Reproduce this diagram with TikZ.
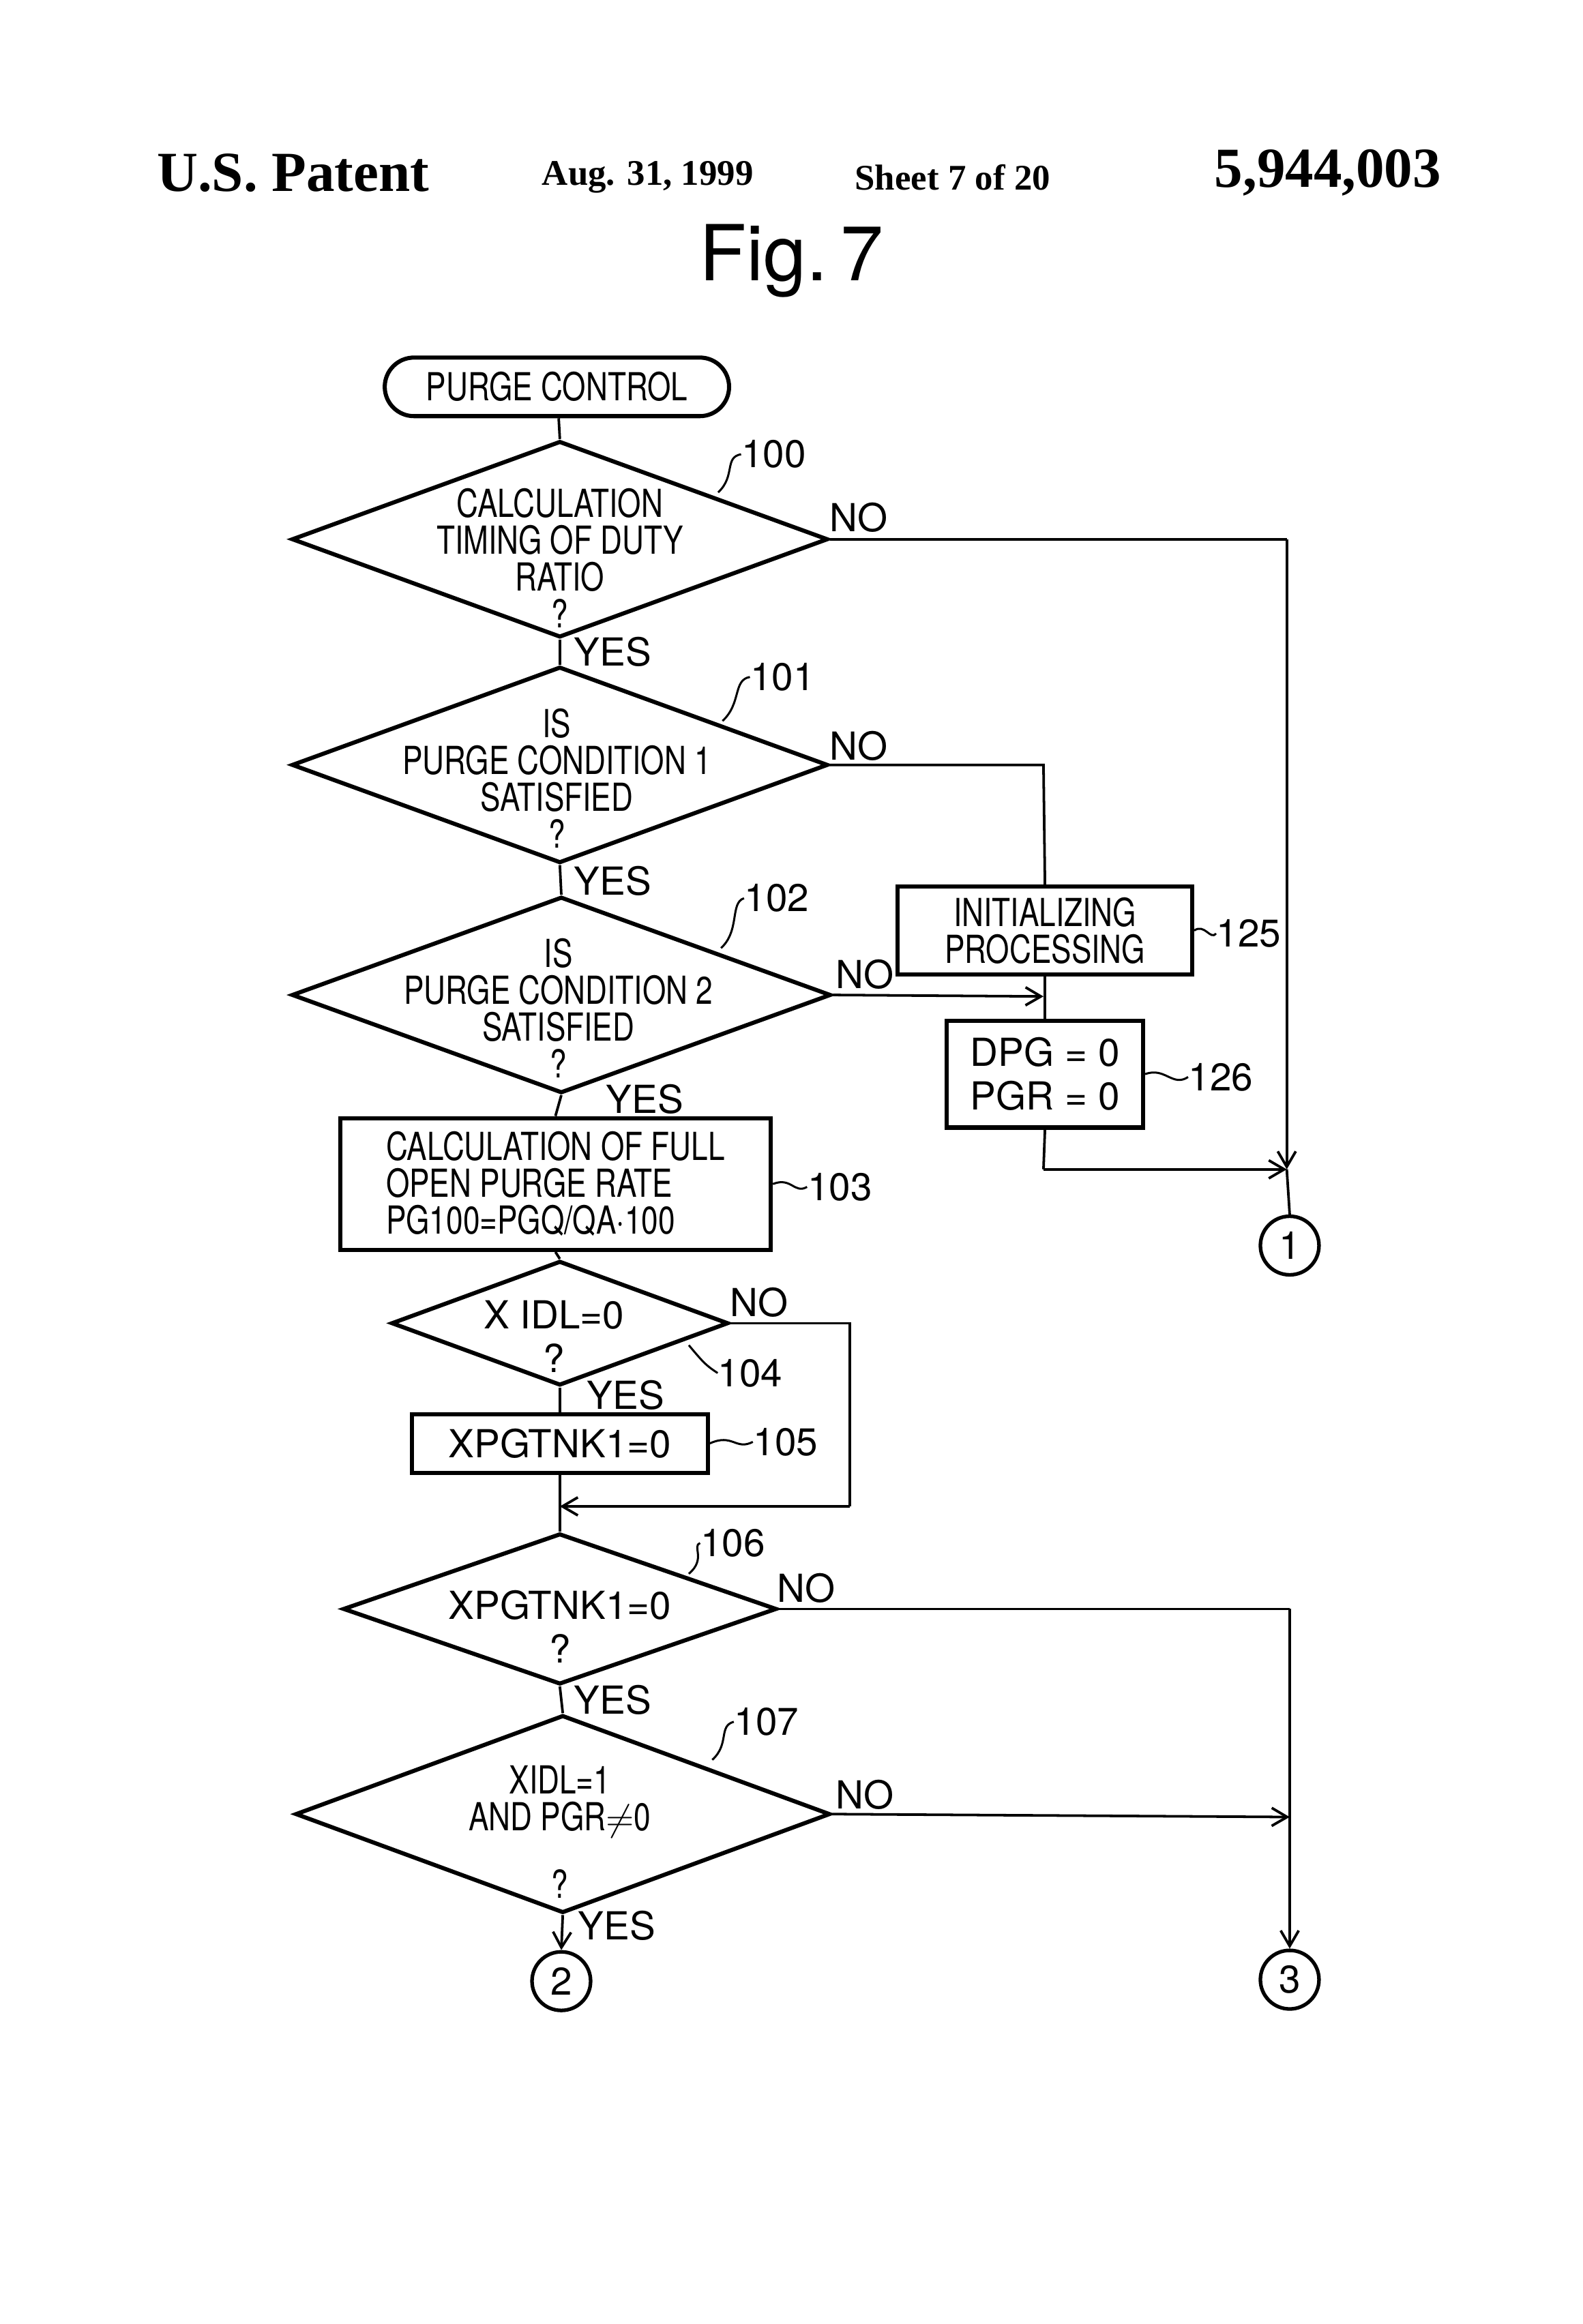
\documentclass[tikz,border=0pt]{standalone}
\usepackage{fontspec}
\setmainfont{Liberation Serif}
\newfontfamily\nar{TeX Gyre Heros}[FakeStretch=0.78]
\newfontfamily\sans{TeX Gyre Heros}
\usetikzlibrary{shapes.geometric,arrows.meta}
\begin{document}
\begin{tikzpicture}[x=0.02cm,y=-0.02cm,
  dia/.style={diamond,draw,line width=1.6pt,inner sep=0,minimum width=#1},
  box/.style={draw,line width=1.6pt,inner sep=0,align=center},
  txt/.style={font=\nar\fontsize{15}{14.3}\selectfont,align=center,inner sep=0},
  lab/.style={font=\sans\fontsize{15}{16}\selectfont,inner sep=0},
  con/.style={line width=1pt},
  arr/.style={line width=1pt,-{Straight Barb[length=6pt,width=7pt]}},
  circ/.style={circle,draw,line width=1.4pt,minimum size=0.8cm,inner sep=0,font=\sans\fontsize{15}{16}\selectfont},
  lead/.style={line width=0.8pt}]
\useasboundingbox (0,0) rectangle (1080,1586);
% header
\node[font=\bfseries\fontsize{22}{24}\selectfont] (h1) at (200,118) {U.S. Patent};
\node[font=\bfseries\fontsize{14}{16}\selectfont] (h2) at (442,121) {Aug. 31, 1999};
\node[font=\bfseries\fontsize{14}{16}\selectfont] (h3) at (650,121) {Sheet 7 of 20};
\node[font=\bfseries\fontsize{22}{24}\selectfont] (h4) at (906,118) {5,944,003};
\node[font=\sans\fontsize{30}{32}\selectfont] (fig) at (540,178) {Fig.\,7};
% start
\node[draw,line width=1.6pt,minimum width=4.7cm,minimum height=0.8cm,rounded corners=0.4cm,txt] (start) at (380,264) {PURGE CONTROL};
% 100
\node[dia,minimum width=7.32cm,minimum height=2.68cm] (d100) at (382,368) {};
\node[txt] (t100) at (382,381) {CALCULATION\\TIMING OF DUTY\\RATIO\\?};
% 101
\node[dia,minimum width=7.32cm,minimum height=2.68cm] (d101) at (382,522) {};
\node[txt] (t101) at (380,531) {IS\\PURGE CONDITION 1\\SATISFIED\\?};
% 102
\node[dia,minimum width=7.36cm,minimum height=2.68cm] (d102) at (383,679) {};
\node[txt] (t102) at (381,688) {IS\\PURGE CONDITION 2\\SATISFIED\\?};
% 125, 126
\node[box,minimum width=4.02cm,minimum height=1.2cm,txt,draw,line width=1.6pt] (b125) at (713,635) {INITIALIZING\\PROCESSING};
\node[box,minimum width=2.68cm,minimum height=1.46cm,font=\sans\fontsize{15}{17}\selectfont,draw,line width=1.6pt] (b126) at (713,733) {DPG = 0\\PGR = 0};
% 103
\node[box,minimum width=5.88cm,minimum height=1.8cm,txt,draw,line width=1.6pt,align=left] (b103) at (379,808) {CALCULATION OF FULL\\ OPEN PURGE RATE\\PG100=PGQ/QA{\textperiodcentered}100};
% 104
\node[dia,minimum width=4.6cm,minimum height=1.7cm] (d104) at (382,903) {};
\node[font=\sans\fontsize{15}{17}\selectfont,align=center,inner sep=0] (t104) at (378,912) {X IDL=0\\?};
% 105
\node[box,minimum width=4.04cm,minimum height=0.8cm,font=\sans\fontsize{15}{17}\selectfont,draw,line width=1.6pt] (b105) at (382,985) {XPGTNK1=0};
% 106
\node[dia,minimum width=5.92cm,minimum height=2.06cm] (d106) at (382,1098) {};
\node[font=\sans\fontsize{15}{17}\selectfont,align=center,inner sep=0] (t106) at (382,1110) {XPGTNK1=0\\?};
% 107
\node[dia,minimum width=7.3cm,minimum height=2.7cm] (d107) at (384,1238) {};
\node[txt] (t107) at (382,1250) {XIDL=1\\AND PGR$\neq$0\\[12pt]?};
% circles
\node[circ] (c1) at (880,850) {1};
\node[circ] (c2) at (383,1352) {2};
\node[circ] (c3) at (880,1351) {3};
% coordinates
\coordinate (r1) at (878,368);
\coordinate (r2) at (712,522);
\coordinate (r3) at (712,680);
\coordinate (r4) at (712,798);
\coordinate (r5) at (878,798);
\coordinate (r6) at (580,903);
\coordinate (r7) at (580,1028);
\coordinate (r8) at (382,1028);
\coordinate (r9) at (880,1098);
\coordinate (r10) at (880,1240);
% connectors
\draw[con] (start) -- (d100.north);
\draw[con] (d100.south) -- (d101.north);
\draw[con] (d101.south) -- (d102.north);
\draw[con] (d102.south) -- (b103.north);
\draw[con] (b103.south) -- (d104.north);
\draw[con] (d104.south) -- (b105.north);
\draw[con] (b105.south) -- (d106.north);
\draw[con] (d106.south) -- (d107.north);
\draw[arr] (d107.south) -- (c2.north);
\draw[con] (d100.east) -- (r1);
\draw[arr] (r1) -- (r5);
\draw[con] (d101.east) -- (r2) -- (b125.north);
\draw[arr] (d102.east) -- (r3);
\draw[con] (b125.south) -- (b126.north);
\draw[con] (b126.south) -- (r4);
\draw[arr] (r4) -- (r5);
\draw[con] (r5) -- (c1.north);
\draw[con] (d104.east) -- (r6) -- (r7);
\draw[arr] (r7) -- (r8);
\draw[con] (d106.east) -- (r9);
\draw[arr] (r9) -- (c3.north);
\draw[arr] (d107.east) -- (r10);
% yes/no labels
\node[lab] (n1) at (586,353) {NO};
\node[lab] (y1) at (418,445) {YES};
\node[lab] (n2) at (586,509) {NO};
\node[lab] (y2) at (418,601) {YES};
\node[lab] (n3) at (590,665) {NO};
\node[lab] (y3) at (440,750) {YES};
\node[lab] (n4) at (518,889) {NO};
\node[lab] (y4) at (427,952) {YES};
\node[lab] (n5) at (550,1084) {NO};
\node[lab] (y5) at (418,1160) {YES};
\node[lab] (n6) at (590,1225) {NO};
\node[lab] (y6) at (421,1314) {YES};
% reference numerals
\node[lab] (l100) at (528,310) {100};
\draw[lead] (490,336) .. controls (502,325) and (494,312) .. (l100.west);
\node[lab] (l101) at (534,462) {101};
\draw[lead] (493,492) .. controls (506,480) and (500,464) .. (l101.west);
\node[lab] (l102) at (530,613) {102};
\draw[lead] (492,647) .. controls (505,635) and (498,616) .. (l102.west);
\node[lab] (l125) at (852,637) {125};
\draw[lead] (b125.east) .. controls (822,630) and (826,642) .. (l125.west);
\node[lab] (l126) at (833,735) {126};
\draw[lead] (b126.east) .. controls (795,728) and (800,742) .. (l126.west);
\node[lab] (l103) at (573,810) {103};
\draw[lead] (b103.east) .. controls (540,803) and (542,815) .. (l103.west);
\node[lab] (l104) at (512,937) {104};
\draw[lead] (470,918) .. controls (480,930) and (482,932) .. (l104.west);
\node[lab] (l105) at (536,984) {105};
\draw[lead] (b105.east) .. controls (500,978) and (502,990) .. (l105.west);
\node[lab] (l106) at (500,1053) {106};
\draw[lead] (470,1074) .. controls (482,1064) and (472,1055) .. (l106.west);
\node[lab] (l107) at (523,1175) {107};
\draw[lead] (486,1201) .. controls (498,1190) and (490,1178) .. (l107.west);
\end{tikzpicture}
\end{document}
